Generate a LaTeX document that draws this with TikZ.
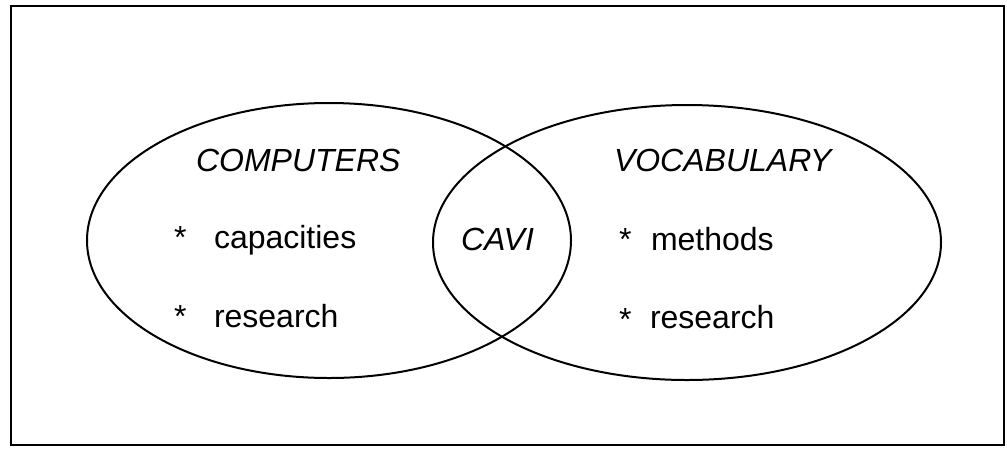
\documentclass[tikz,border=0pt]{standalone}
\usepackage{fontspec}
\setmainfont{Liberation Sans}
\usetikzlibrary{shapes.geometric}
\tikzset{
  venn/.style={draw, ellipse, line width=2pt, inner sep=0pt, outer sep=0pt},
  lbl/.style={anchor=base west, inner sep=0pt, outer sep=0pt, font=\fontsize{32}{38}\selectfont},
  title/.style={lbl, font=\fontsize{32}{38}\selectfont\itshape},
  frame/.style={draw, line width=2.6pt}
}
\begin{document}
\begin{tikzpicture}[x=1pt,y=-1pt]
\useasboundingbox (0,0) rectangle (1007,448);
\coordinate (fa) at (11,6);
\coordinate (fb) at (1004,445);
\draw[frame] (fa) rectangle (fb);
\node[venn, minimum width=484pt, minimum height=275pt] (L) at (329,240.5) {};
\node[venn, minimum width=508pt, minimum height=275pt] (R) at (687,242.5) {};
\node[title] (comp) at (196,171) {COMPUTERS};
\node[title] (voc) at (614,171) {VOCABULARY};
\node[title] (cavi) at (461,250) {CAVI};
\node[lbl] (s1) at (174,248) {*};
\node[lbl] (cap) at (214,248) {capacities};
\node[lbl] (s2) at (174,327) {*};
\node[lbl] (res1) at (214,327) {research};
\node[lbl] (s3) at (619,250) {*};
\node[lbl] (meth) at (651,250) {methods};
\node[lbl] (s4) at (619,330) {*};
\node[lbl] (res2) at (650,328) {research};
\end{tikzpicture}
\end{document}
